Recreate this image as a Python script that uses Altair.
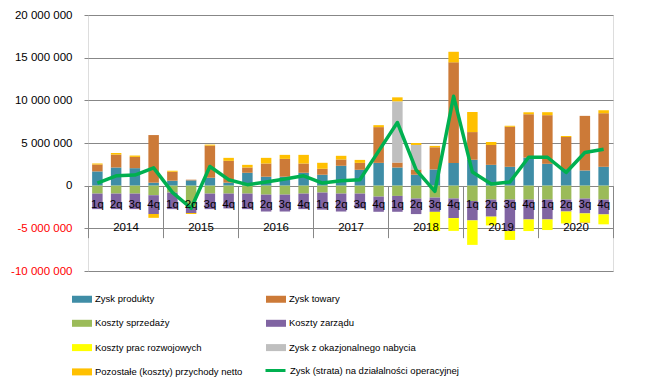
import altair as alt
import pandas as pd

years = ["2014", "2015", "2016", "2017", "2018", "2019", "2020"]
quarters = ["1q", "2q", "3q", "4q"]

series_names = [
    "Zysk produkty",
    "Zysk towary",
    "Koszty sprzedaży",
    "Koszty zarządu",
    "Koszty prac rozwojowych",
    "Zysk z okazjonalnego nabycia",
    "Pozostałe (koszty) przychody netto",
]
series_colors = ["#3F8DA6", "#CC7A38", "#9BBB59", "#8064A2", "#FFFF00", "#BFBFBF", "#FFC000"]
# legend fills column by column: left column first, then right column
legend_order = [0, 2, 4, 6, 1, 3, 5]
line_name = "Zysk (strata) na działalności operacyjnej"
line_color = "#00B050"

# values in millions PLN, 2014 1q ... 2020 4q
zysk_produkty = [1.67, 2.13, 2.05, 0.35, 0.58, 0.62, 0.93, 0.35, 1.51, 1.05, 1.05, 1.51,
                 1.28, 2.33, 1.86, 2.67, 2.13, 1.28, 1.90, 2.67, 3.04, 2.44, 2.21, 3.29,
                 2.56, 1.94, 1.78, 2.21]
zysk_towary = [0.81, 1.51, 1.32, 5.58, 1.05, 0.08, 3.76, 2.56, 0.62, 1.55, 2.09, 1.09,
               0.70, 0.74, 0.81, 4.19, 0.58, 0.62, 2.60, 11.78, 3.24, 2.33, 4.69, 5.08,
               5.70, 3.76, 6.40, 6.28]
koszty_sprzedazy = [-0.93, -0.93, -0.93, -1.12, -0.81, -2.50, -0.93, -0.93, -0.93, -1.05, -1.05, -0.93,
                    -0.81, -0.93, -0.93, -1.28, -1.20, -1.51, -1.40, -1.50, -1.80, -1.63, -1.63, -1.63,
                    -1.63, -1.63, -1.51, -1.63]
koszty_zarzadu = [-1.82, -1.82, -1.82, -2.20, -1.94, -0.70, -1.82, -1.74, -1.82, -1.98, -1.98, -1.82,
                  -2.00, -2.10, -1.74, -1.78, -1.86, -1.82, -1.67, -2.30, -2.27, -2.00, -3.68, -2.33,
                  -2.33, -1.40, -1.74, -1.74]
koszty_prac = [0, 0, 0, 0, 0, 0, 0, 0, 0, 0, 0, 0,
               0, 0, 0, 0, 0, 0, -2.25, -1.50, -2.87, -1.03, -1.05, -1.36,
               -1.24, -1.40, -1.05, -1.16]
zysk_okazjonalny = [0, 0, 0, 0, 0, 0, 0, 0, 0, 0, 0, 0,
                    0, 0, 0, 0, 7.17, 2.87, 0, 0, 0, 0, 0, 0,
                    0, 0, 0, 0]
pozostale = [0.12, 0.19, 0.16, -0.45, 0.12, -0.12, 0.12, 0.35, 0.31, 0.66, 0.47, 1.01,
             0.70, 0.43, 0.35, 0.23, 0.47, 0.23, 0.16, 1.24, 2.35, 0.35, 0.12, 0.23,
             0.35, 0.12, -0.08, 0.35]
zysk_operacyjny = [0.31, 1.16, 1.24, 2.09, -0.78, -2.65, 2.25, 0.70, 0.12, 0.43, 0.78, 1.16,
                   0.31, 0.58, 0.70, 4.05, 7.40, 1.86, -0.66, 10.47, 1.59, 0.20, 0.43, 3.33,
                   3.33, 1.55, 3.88, 4.26]

y_ticks = [-10_000_000, -5_000_000, 0, 5_000_000, 10_000_000, 15_000_000, 20_000_000]

keys = [f"{y}|{q}" for y in years for q in quarters]
bar_series = [zysk_produkty, zysk_towary, koszty_sprzedazy, koszty_zarzadu,
              koszty_prac, zysk_okazjonalny, pozostale]

rows = []
for si, vals in enumerate(bar_series):
    for k, v in zip(keys, vals):
        rows.append({"key": k, "series": series_names[si], "ord": si, "value": v * 1_000_000})
bars_df = pd.DataFrame(rows)
line_df = pd.DataFrame({"key": keys, "series": line_name,
                        "value": [v * 1_000_000 for v in zysk_operacyjny]})
years_df = pd.DataFrame({"year": years})

FONT = "Liberation Sans"
GRID = "#878787"
zero_offset = alt.ExprRef("scale('y', 0) - height")

common_legend = dict(
    orient="none", title=None, symbolSize=400,
    labelFont=FONT, labelFontSize=9.5, labelColor="#000000", labelOffset=3,
    labelLimit=400, padding=0, symbolOpacity=1,
)
bar_legend = alt.Legend(
    legendX=-16, legendY=274, columns=2, columnPadding=23, rowPadding=9.3,
    symbolType="M-1,-0.35H1V0.35H-1Z", symbolStrokeWidth=0, **common_legend,
)
line_legend = alt.Legend(
    legendX=176, legendY=344, symbolType="stroke", symbolStrokeWidth=3, **common_legend,
)

x_axis = alt.Axis(
    title=None, orient="bottom", offset=zero_offset, domain=False, ticks=False,
    labelExpr="split(datum.value, '|')[1]", labelAngle=0, labelFont=FONT,
    labelFontSize=11.5, labelColor="#000000", labelPadding=13, zindex=1, grid=False,
)
x_scale = alt.Scale(paddingInner=0, paddingOuter=0)

y_axis = alt.Axis(
    title=None, values=y_ticks, grid=True, gridColor=GRID, gridWidth=1, domain=False,
    tickSize=4, tickColor=GRID, labelPadding=12, labelFont=FONT, labelFontSize=11.5,
    labelExpr="(datum.value < 0 ? '-' : '') + replace(format(abs(datum.value), ','), regexp(',', 'g'), ' ')",
    labelColor={"condition": {"test": "datum.value < 0", "value": "#FF0000"}, "value": "#000000"},
)
y_scale = alt.Scale(domain=[-10_000_000, 20_000_000], nice=False, zero=False)

bars = alt.Chart(bars_df).mark_bar(width=alt.RelativeBandSize(0.56)).encode(
    x=alt.X("key:N", sort=keys, scale=x_scale, axis=x_axis),
    y=alt.Y("value:Q", stack="zero", scale=y_scale, axis=y_axis),
    fill=alt.Fill("series:N",
                  scale=alt.Scale(domain=[series_names[i] for i in legend_order],
                                  range=[series_colors[i] for i in legend_order]),
                  legend=bar_legend),
    order=alt.Order("ord:Q"),
)

line = alt.Chart(line_df).mark_line(strokeWidth=3.5, strokeJoin="round").encode(
    x=alt.X("key:N", sort=keys, scale=x_scale, axis=x_axis),
    y=alt.Y("value:Q", scale=y_scale, axis=y_axis),
    stroke=alt.Stroke("series:N", scale=alt.Scale(domain=[line_name], range=[line_color]), legend=line_legend),
)

year_axis = alt.Axis(
    title=None, orient="bottom", offset=zero_offset, domain=False, ticks=True,
    tickBand="extent", tickSize=52, tickColor=GRID, tickWidth=1,
    labelAngle=0, labelFont=FONT, labelFontSize=11.5, labelColor="#000000",
    labelPadding=-16, zindex=1, grid=False,
)
year_layer = alt.Chart(years_df).mark_point(opacity=0).encode(
    x=alt.X("year:N", sort=years, scale=alt.Scale(type="band", paddingInner=0, paddingOuter=0), axis=year_axis),
)

main = alt.layer(bars, line)

chart = alt.layer(main, year_layer).resolve_scale(x="independent").properties(
    width=525, height=256,
    autosize=alt.AutoSizeParams(type="none"),
    padding={"left": 80, "top": 7, "right": 47, "bottom": 111},
    background="#FFFFFF",
).configure_view(stroke=None).configure(font=FONT)

chart.save("out.html", embed_options={"renderer": "svg", "actions": False})
